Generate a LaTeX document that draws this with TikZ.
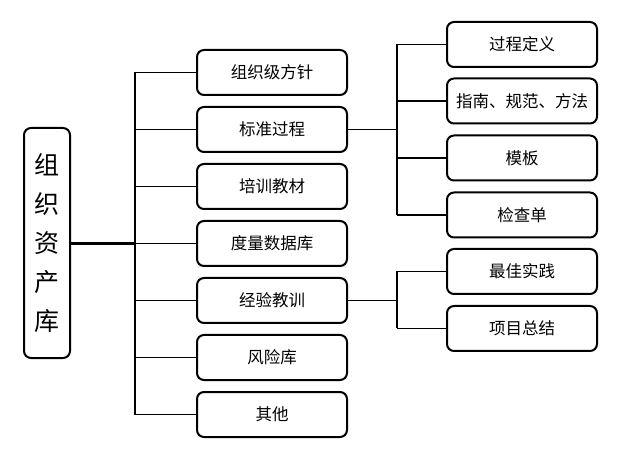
\documentclass[tikz,border=0pt]{standalone}
\usepackage{fontspec}
\setmainfont{Noto Sans CJK SC}
\begin{document}
\begin{tikzpicture}[x=1pt,y=-1pt,
  boxM/.style={draw=black,line width=2pt,rounded corners=7pt,minimum width=150pt,minimum height=45pt,inner sep=0pt,font=\fontsize{16.5}{20}\selectfont},
  boxR/.style={boxM},
  boxL/.style={draw=black,line width=2pt,rounded corners=7pt,minimum width=46pt,minimum height=230pt,inner sep=0pt,font=\fontsize{25}{39}\selectfont,align=center},
  conn/.style={draw=black,line width=1.2pt},
  connT/.style={draw=black,line width=2.2pt}]
\useasboundingbox (0,0) rectangle (640,462);
\fill[white] (0,0) rectangle (640,462);
\node[boxL] (root) at (47,243) {组\\织\\资\\产\\库};
\node[boxM] (m1) at (272,72.5) {组织级方针};
\node[boxM] (m2) at (272,129.5) {标准过程};
\node[boxM] (m3) at (272,186.5) {培训教材};
\node[boxM] (m4) at (272,243.5) {度量数据库};
\node[boxM] (m5) at (272,300.5) {经验教训};
\node[boxM] (m6) at (272,357.5) {风险库};
\node[boxM] (m7) at (272,414.5) {其他};
\node[boxR] (r1) at (522,44.5) {过程定义};
\node[boxR] (r2) at (522,101) {指南、规范、方法};
\node[boxR] (r3) at (522,158) {模板};
\node[boxR] (r4) at (522,215) {检查单};
\node[boxR] (r5) at (522,271.5) {最佳实践};
\node[boxR] (r6) at (522,328.5) {项目总结};
\coordinate (t1) at (135,72.5);
\coordinate (t7) at (135,414.5);
\coordinate (tm) at (135,243.5);
\draw[conn] (t1) -- (t7);
\draw[connT] (root.east |- tm) -- (tm);
\foreach \i in {1,...,7} {\draw[conn] (m\i.west) -- (m\i.west -| t1);}
\coordinate (b1) at (397,44.5);
\coordinate (b4) at (397,215);
\draw[conn] (b1) -- (b4);
\draw[conn] (m2.east) -- (m2.east -| b1);
\foreach \i in {1,...,4} {\draw[conn] (r\i.west) -- (r\i.west -| b1);}
\coordinate (c5) at (397,271.5);
\coordinate (c6) at (397,328.5);
\draw[conn] (c5) -- (c6);
\draw[conn] (m5.east) -- (m5.east -| c5);
\foreach \i in {5,6} {\draw[conn] (r\i.west) -- (r\i.west -| c5);}
\end{tikzpicture}
\end{document}
